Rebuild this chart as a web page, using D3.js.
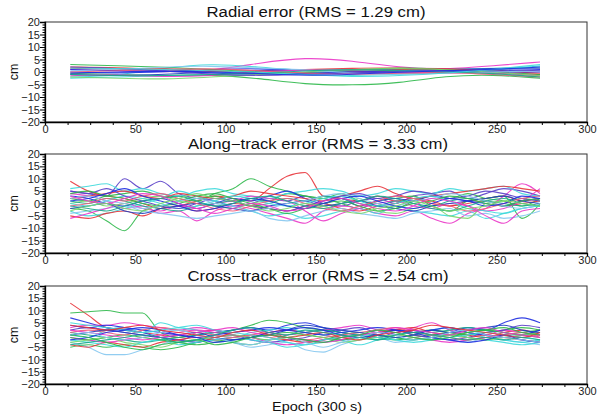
<!DOCTYPE html>
<html><head><meta charset="utf-8">
<script src="https://cdn.jsdelivr.net/npm/d3@7"></script>
<style>body{margin:0;background:#fff;} svg{display:block;font-family:"Liberation Sans",Arial,Helvetica,sans-serif;}</style>
</head><body><svg id="c" width="597" height="418"></svg>
<script>
// ---- data ----
const titles = ["Radial error (RMS = 1.29 cm)", "Along\u2212track error (RMS = 3.33 cm)", "Cross\u2212track error (RMS = 2.54 cm)"];
const xTicks = [0, 50, 100, 150, 200, 250, 300];
const yTicks = [-20, -15, -10, -5, 0, 5, 10, 15, 20];
const radialEpochs = [14, 40, 66, 92, 118, 144, 170, 196, 222, 248, 274];
const trackEpochs = [14,24,34,44,54,64,74,84,94,104,114,124,134,144,154,164,174,184,194,204,214,224,234,244,254,264,274];
const C = {r:"#e8333a", g:"#2db84a", b:"#1f2fe0", c:"#3fd9dc", m:"#ea36c8", p:"#5a3fc8", lb:"#86c8f0", t:"#1aa88a", lg:"#7ad66a", db:"#2040c0", pk:"#f05a7a"};
const radialColors = [C.m,C.g,C.c,C.r,C.b,C.db,C.g,C.r,C.c,C.m,C.b,C.lg,C.lb,C.pk,C.p,C.t,C.c,C.b];
const alongColors = [C.r,C.p,C.g,C.g,C.m,C.c,C.c,C.r,C.b,C.lb,C.m,C.lg,C.t,C.db,C.r,C.c,C.p,C.g,C.lb,C.pk,C.b,C.t,C.m,C.lg];
const crossColors = [C.r,C.g,C.b,C.lb,C.m,C.c,C.g,C.p,C.r,C.t,C.m,C.c,C.b,C.g,C.pk,C.lg,C.db,C.c,C.m,C.b,C.lb,C.r,C.g,C.t];
const radialValues = [
 [1,0.5,0,0.5,3.5,6,4.5,1.8,1,2.5,4],
 [-0.5,-1,-1.5,-1,-2.5,-5,-5.3,-4.5,-1.5,-1,-2.5],
 [-2,-1.5,1.5,3.5,2,0.5,0,0.5,1,1.5,2],
 [2,1.8,1,0,0.5,1,1.5,1.8,0.5,-0.5,-1],
 [0,-0.5,0,1,1.5,0.5,0,-0.5,0,0.5,1],
 [-1,-1.5,-1,0,0.5,0.5,1,1,1,1.5,1.5],
 [3,2.5,2,1,0,-0.5,0.5,2,1,0,-1],
 [1.5,1,1.5,0.5,-0.5,-1,0,1,1.5,0.5,-0.5],
 [-2.5,-2,-1.5,-1,-0.5,-1,-1.5,-1,0,0.5,2.5],
 [-1.5,-1,-2,-1.5,0,1,0.5,0,-0.5,0,-1.5],
 [1,0.5,0.5,-0.5,-1,-0.5,0,0.5,0.5,0,0],
 [-2,-2.5,-3,-2,-1,0,1,1.5,1,0,-1.5],
 [0.5,1,2,2.5,1.5,1,-0.5,-1,-0.5,0,0.5],
 [0,0.5,1,1.5,0.5,-0.5,-1,-0.5,0,-1,-2],
 [2,1.5,0.5,-1,-1.5,-1,-0.5,0.5,0.5,1,0.5],
 [-1,-1.5,-1.5,-1,-0.5,0.5,1,0.5,0,-0.5,-2],
 [1.5,1.5,1,0.5,0,-1,-2,-1.5,-0.5,1,3],
 [-0.5,0,0.5,0,-0.5,-1.5,-1,0,0.5,1,2]
];
const alongValues = [
 [9,5,3,2,0,-2,-1,1,3,2,1,6,11,12.5,3,2,1,3,1,2,0,-1,1,2,3,1,2],
 [5,4,3,10,6,9,4,2,1,-1,0,2,1,3,0,-1,1,2,0,3,4,5,2,4,6,5,3],
 [-2,-3,-7,-11,-3,-1,0,2,3,1,2,1,4,3,2,0,-2,1,2,3,-1,-3,1,2,3,-6,0],
 [2,1,3,4,5,3,2,1,4,6,10,7,5,3,2,4,1,0,-2,1,3,2,4,2,1,-1,2],
 [4,3,1,-2,-1,-4,-3,-7,-3,-1,-2,-4,-6,-8,-3,-1,-2,-4,-5,-3,-6,-8,-4,-2,3,8,4],
 [-3,-5,-4,-2,0,2,5,3,1,-1,-3,-5,-4,-6,-5,-3,-2,-4,-1,-3,-4,-5,-3,-6,-4,-2,-1],
 [6,7,8,5,6,4,3,5,6,4,3,2,4,5,6,5,3,4,6,5,4,6,5,6,7,4,3],
 [-5,-6,-4,-3,-5,-2,-1,-3,-2,0,-1,-2,-3,-1,0,-2,-3,-1,0,2,1,-1,0,1,-1,0,1],
 [3,2,0,-1,1,2,0,-2,0,2,1,3,5,2,0,2,-1,1,2,1,3,2,1,0,-1,1,2],
 [-4,-3,-2,-1,-3,-4,-5,-6,-5,-4,-3,-6,-7,-5,-3,-2,-4,-5,-6,-4,-3,-2,-5,-4,-6,-5,-3],
 [-6,-4,-2,0,-2,-3,-1,-2,0,1,3,2,1,-3,-7,-4,-2,0,1,-1,-2,0,-1,-3,-2,1,6],
 [0,1,-1,0,2,3,1,0,-1,-2,0,1,-1,-2,-1,0,2,-3,-4,-2,-1,-5,-6,0,1,2,1],
 [1,0,2,1,-1,-2,-3,-1,0,1,-1,0,2,1,3,2,0,-1,1,0,-1,1,2,1,0,-1,0],
 [-2,-1,0,-3,-4,-2,-1,0,-1,-2,-3,-1,0,1,-1,0,1,-1,-2,-3,-1,0,1,2,3,1,0],
 [2,3,4,5,3,2,4,3,2,3,5,4,3,2,1,3,5,7,4,2,3,4,5,6,7,6,5],
 [0,-1,1,3,2,0,-2,-1,1,3,2,0,-1,0,2,3,1,-1,0,2,3,1,-2,-3,-4,-2,-1],
 [5,4,6,3,1,-1,-2,0,2,1,-1,-2,-3,-1,1,3,4,2,3,5,4,2,3,5,4,2,1],
 [4,5,3,2,0,-1,1,3,4,2,0,-2,-4,-2,0,1,-1,-3,-2,0,1,3,2,0,-1,1,2],
 [2,3,1,0,-2,-1,1,2,0,-1,-3,-2,0,1,3,4,2,0,-1,1,2,4,3,1,-1,-2,0],
 [-1,0,2,1,3,4,2,0,-2,-3,-1,1,2,0,-2,-3,-1,1,3,2,0,-1,-3,-2,0,2,3],
 [1,2,4,6,3,1,-1,-3,-2,0,2,1,-1,-2,0,2,3,1,-1,-2,0,2,1,-1,0,3,2],
 [-1,-2,-3,-1,1,2,3,1,-1,0,2,3,1,-1,-2,0,1,3,2,0,-2,-3,-1,1,2,0,-1],
 [3,1,0,2,4,3,0,-2,-4,-2,0,-1,-3,-2,1,2,0,-2,-3,-1,2,1,-1,-5,-8,-3,-2],
 [-3,-1,0,-2,-3,0,2,4,2,1,-1,-3,-2,0,-1,-3,-4,-2,-1,1,-1,-3,-2,-1,1,0,-1]
];
const crossValues = [
 [13,8,3,2,1,0,-1,1,2,0,-1,1,2,1,0,-1,0,1,2,0,-1,1,0,-1,1,2,0],
 [9,9.5,10,9,9,1,-1,0,1,2,4,6,5,3,2,1,0,-1,0,1,2,1,0,1,2,3,2],
 [7,5,3,2,1,-1,-2,0,1,2,3,2,4,5,3,1,0,-1,1,2,0,1,3,2,5,7,5],
 [-3,-5,-8,-8,-6,-4,-2,-3,-1,-3,-5,-4,-3,-6,-7,-4,-2,-1,-3,-2,-1,-2,-3,-1,-2,-3,-4],
 [3,4,4,5,4,3,2,3,2,1,2,1,0,1,2,3,4,2,1,3,5,2,1,0,2,1,0],
 [0,-1,2,3,1,5,3,2,0,-1,1,2,3,1,0,-2,-4,-2,0,1,2,3,1,-1,-2,-3,-2],
 [-5,-4,-5,-4,-5,-6,-5,-3,-2,-3,-4,-2,-1,-3,-2,0,1,-1,-2,-1,0,1,-1,-2,0,1,2],
 [2,3,2,1,0,-1,-2,-3,-1,0,-2,-3,-2,-1,1,2,3,1,2,0,-1,-2,-1,1,2,4,3],
 [-4,-5,-3,-4,-5,-3,-2,-1,-2,-1,0,-1,-2,-3,-2,-1,0,1,2,3,1,0,-1,0,-1,-2,-3],
 [1,0,-1,-2,-3,-2,-1,0,1,0,-1,-2,0,1,2,1,0,-2,-1,0,1,2,3,2,1,0,1],
 [-1,-2,-3,-2,-1,0,1,2,1,0,-1,-3,-4,-3,-2,-1,0,1,0,-1,-2,-3,-2,-1,0,-1,0],
 [-2,-3,-4,-5,-3,-2,-4,-3,-2,-1,-2,-3,-5,-4,-3,-2,-1,0,-1,-2,-1,0,-1,-2,-3,-4,-3],
 [4,3,4,3,2,1,0,-1,0,1,2,3,2,1,0,1,2,3,2,1,2,3,1,0,-1,0,2],
 [-1,-2,-1,0,-1,-2,-3,-4,-3,-2,-1,0,1,0,-1,-2,-1,0,-1,-2,-1,0,1,2,1,0,-1],
 [1,2,1,0,2,3,2,1,0,-1,0,1,-1,-2,-1,0,1,2,3,1,0,-1,-2,-1,0,1,-1],
 [-3,-2,-1,-3,-4,-5,-3,-2,-1,0,-1,-2,-1,0,-1,-3,-2,-1,0,-1,-2,0,-1,-2,-1,0,1],
 [0,1,2,1,0,-1,0,1,-1,-2,-1,0,2,4,3,2,1,0,-1,0,2,1,2,3,4,2,1],
 [5,4,3,2,1,2,3,4,2,1,0,-1,-3,-4,-2,-1,0,-1,-2,-3,-2,-1,0,1,0,-1,-2],
 [2,1,0,-1,-2,-1,0,1,2,3,1,0,-1,-2,-3,-2,0,1,3,2,1,0,2,3,1,0,-1],
 [-2,-1,1,2,3,2,0,-1,-3,-2,-1,1,2,3,2,0,-1,0,2,1,-1,-2,-3,-2,0,-2,-3],
 [0,1,-1,-2,-1,1,2,0,-1,-3,-4,-2,-1,-3,-5,-3,-1,1,0,-2,-1,1,2,0,-1,-2,-3],
 [4,3,2,3,4,2,1,0,-1,1,2,0,-1,0,1,-1,-2,0,1,2,4,3,2,1,0,-1,1],
 [0,-1,-3,-5,-6,-4,-3,-2,-4,-3,-1,0,-1,-2,-3,-1,0,2,1,-1,-2,-1,1,2,3,1,0],
 [-4,-3,-2,-1,0,-1,-3,-2,0,2,3,1,0,2,1,0,-1,-2,0,1,0,-1,-2,-1,-2,-1,-2]
];

// ---- drawing ----
const svg = d3.select("#c");
const x = d3.scaleLinear().domain([0, 300]).range([45, 587]);
const panels = [
  {top: 22, bottom: 122, ep: radialEpochs, vals: radialValues, cols: radialColors, curve: d3.curveBasis, title: titles[0], ty: 17, tx: 316, tw: 219},
  {top: 154, bottom: 253, ep: trackEpochs, vals: alongValues, cols: alongColors, curve: d3.curveMonotoneX, title: titles[1], ty: 149, tx: 318, tw: 260},
  {top: 286, bottom: 384, ep: trackEpochs, vals: crossValues, cols: crossColors, curve: d3.curveMonotoneX, title: titles[2], ty: 281, tx: 318, tw: 261}
];
const fmt = d => d < 0 ? "\u2212" + Math.abs(d) : String(d);

panels.forEach(p => {
  const y = d3.scaleLinear().domain([-20, 20]).range([p.bottom, p.top]);
  const g = svg.append("g");
  const line = d3.line().x((d, i) => x(p.ep[i])).y(d => y(d)).curve(p.curve);
  g.selectAll("path.s").data(p.vals).join("path")
    .attr("class", "s").attr("d", line).attr("fill", "none")
    .attr("stroke", (d, i) => p.cols[i % p.cols.length])
    .attr("stroke-width", 1.1).attr("stroke-opacity", 0.9);
  g.append("rect").attr("x", x(0)).attr("y", p.top).attr("width", x(300) - x(0)).attr("height", p.bottom - p.top)
    .attr("fill", "none").attr("stroke", "#333").attr("stroke-width", 1);
  const xa = d3.axisBottom(x).tickValues(d3.range(0, 300.1, 12.5)).tickSize(3)
    .tickFormat(d => xTicks.includes(d) ? d : "");
  const gx = g.append("g").attr("transform", `translate(0,${p.bottom})`).call(xa);
  gx.select(".domain").attr("stroke", "#000").attr("stroke-width", 1.3);
  gx.selectAll(".tick text").attr("font-size", 11).attr("y", 3).attr("fill", "#222");
  const ya = d3.axisLeft(y).tickValues(yTicks).tickSize(5).tickFormat(fmt);
  const gy = g.append("g").attr("transform", `translate(${x(0)},0)`).call(ya);
  gy.select(".domain").attr("stroke", "#000").attr("stroke-width", 1.3);
  gy.selectAll(".tick text").attr("font-size", 11).attr("x", -5).attr("fill", "#222");
  const ym = d3.axisLeft(y).tickValues(d3.range(-20, 21, 1).filter(v => v % 5 !== 0)).tickSize(2.5).tickFormat("");
  const gym = g.append("g").attr("transform", `translate(${x(0)},0)`).call(ym);
  gym.select(".domain").remove();
  svg.append("text").attr("x", p.tx).attr("y", p.ty).attr("text-anchor", "middle")
    .attr("font-size", 14).attr("textLength", p.tw).attr("lengthAdjust", "spacingAndGlyphs")
    .attr("fill", "#111").text(p.title);
  svg.append("text").attr("transform", `translate(18,${(p.top + p.bottom) / 2}) rotate(-90)`)
    .attr("text-anchor", "middle").attr("font-size", 12.5).attr("fill", "#111").text("cm");
});
svg.append("text").attr("x", 317).attr("y", 411).attr("text-anchor", "middle")
  .attr("font-size", 13.5).attr("textLength", 90).attr("lengthAdjust", "spacingAndGlyphs")
  .attr("fill", "#111").text("Epoch (300 s)");
</script></body></html>
